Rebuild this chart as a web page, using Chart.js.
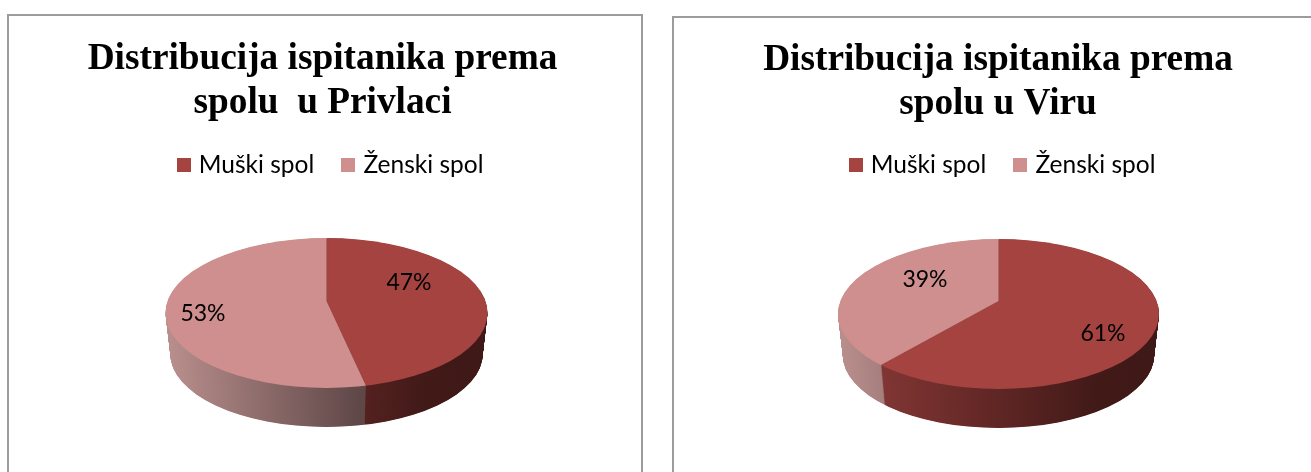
<!DOCTYPE html>
<html>
<head>
<meta charset="utf-8">
<style>
html, body { margin: 0; padding: 0; background: #fff; width: 1311px; height: 472px; overflow: hidden; }
.frame { position: absolute; box-sizing: border-box; height: 480px; border: 2px solid #9c9c9c; border-bottom: 0; }
canvas { position: absolute; top: 0; }
</style>
<script src="https://cdn.jsdelivr.net/npm/chart.js@4"></script>
</head>
<body>
<div class="frame" style="left:7px;top:14px;width:636px"></div>
<div class="frame" style="left:672px;top:16px;width:645px"></div>
<canvas id="chartPrivlaci" width="645" height="472" style="left:0"></canvas>
<canvas id="chartVir" width="626" height="472" style="left:685px"></canvas>
<script>
// podaci
const categories = ['Muški spol', 'Ženski spol'];
const privlaciValues = [46.6, 53.4];
const virValues = [61.3, 38.7];
const privlaciTitle = ['Distribucija ispitanika prema', 'spolu  u Privlaci'];
const virTitle = ['Distribucija ispitanika prema', 'spolu u Viru'];

const RED = '#a54341';
const PINK = '#cf8f8e';
// boje bočne strane, lijevo -> desno
const SIDE_STOPS = [
    [[0, '#8c3b39'], [0.5, '#5f2624'], [0.8, '#421a18'], [1, '#3e1917']],
    [[0, '#b98f8d'], [0.6, '#604848'], [1, '#4a3a3a']]
];

function squareIcon(color) {
    const c = document.createElement('canvas');
    c.width = 14;
    c.height = 14;
    const g = c.getContext('2d');
    g.fillStyle = color;
    g.fillRect(0, 0, 14, 14);
    return c;
}

// "3D" pita: spljošteni krug, vrh malo iznad središta elipse, bok od pomaknutih kopija
const pie3d = {
    id: 'pie3d',
    afterLayout(chart, args, o) {
        chart.legend.left += o.legendShift;
        chart.legend.right += o.legendShift;
    },
    beforeDatasetsDraw(chart, args, o) {
        const ctx = chart.ctx;
        const arcs = chart.getDatasetMeta(0).data;
        const steps = 84;
        for (let s = steps; s > 0; s--) {
            const t = s / steps;
            const k = 1 - 0.03 * t;
            const y = o.cy + (o.bottom - o.ry * k - o.cy) * t;
            ctx.save();
            place(ctx, arcs[0], o, y, k);
            arcs.forEach((arc, i) => {
                const grad = ctx.createLinearGradient(arc.x - o.rx, 0, arc.x + o.rx, 0);
                SIDE_STOPS[i].forEach(st => grad.addColorStop(st[0], st[1]));
                const saved = arc.options;
                arc.options = { ...saved, backgroundColor: grad };
                arc.draw(ctx);
                arc.options = saved;
            });
            ctx.restore();
        }
        ctx.save();
        place(ctx, arcs[0], o, o.cy, 1);
    },
    afterDatasetsDraw(chart, args, o) {
        const ctx = chart.ctx;
        ctx.restore();
        ctx.font = '23px Lato';
        ctx.fillStyle = '#000';
        ctx.textAlign = 'center';
        ctx.textBaseline = 'middle';
        chart.data.datasets[0].data.forEach((v, i) => {
            ctx.fillText(Math.round(v) + '%', o.labels[i][0], o.labels[i][1]);
        });
    }
};

function place(ctx, arc, o, y, k) {
    ctx.beginPath();
    ctx.ellipse(o.cx, y, o.rx * k, o.ry * k, 0, 0, Math.PI * 2);
    ctx.clip();
    ctx.translate(o.cx, y - o.vertexUp * k);
    ctx.scale(k, k * o.ry / o.rx);
    ctx.translate(-arc.x, -arc.y);
}

function makeChart(id, values, title, pieOpts) {
    return new Chart(document.getElementById(id), {
        type: 'pie',
        data: {
            labels: categories,
            datasets: [{
                data: values,
                backgroundColor: [RED, PINK],
                borderWidth: 0,
                radius: 240,
                clip: false
            }]
        },
        plugins: [pie3d],
        options: {
            responsive: false,
            animation: false,
            layout: { padding: 0 },
            plugins: {
                tooltip: { enabled: false },
                title: {
                    display: true,
                    text: title,
                    color: '#000',
                    font: { family: '"Liberation Serif"', size: 37.3, weight: 'bold', lineHeight: 1.16 },
                    padding: { top: pieOpts.titleTop, bottom: pieOpts.titleBottom }
                },
                legend: {
                    position: 'top',
                    labels: {
                        color: '#000',
                        font: { family: 'Lato', size: 24.5 },
                        usePointStyle: true,
                        pointStyleWidth: 6,
                        boxHeight: 14,
                        padding: 31,
                        generateLabels(chart) {
                            const items = Chart.overrides.pie.plugins.legend.labels.generateLabels(chart);
                            items.forEach((it, i) => { it.pointStyle = squareIcon([RED, PINK][i]); });
                            return items;
                        }
                    }
                },
                pie3d: pieOpts
            }
        }
    });
}

makeChart('chartPrivlaci', privlaciValues, privlaciTitle, {
    cx: 326.5, cy: 313, rx: 161, ry: 75, vertexUp: 12, bottom: 427,
    labels: [[409, 283], [203, 314]], legendShift: 9.5, titleTop: 38, titleBottom: -3
});
makeChart('chartVir', virValues, virTitle, {
    cx: 313.5, cy: 314, rx: 160.5, ry: 75, vertexUp: 13, bottom: 428,
    labels: [[418, 334], [240, 280]], legendShift: 6, titleTop: 39, titleBottom: -4
});
</script>
</body>
</html>
